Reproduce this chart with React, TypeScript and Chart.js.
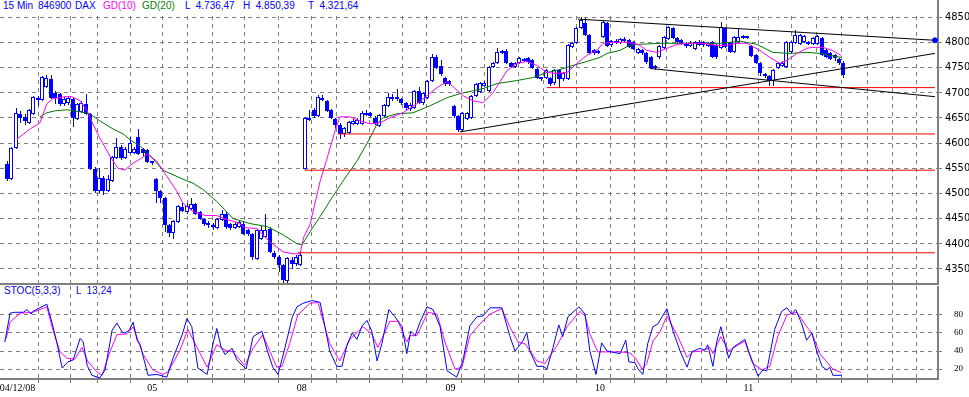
import React, { useEffect, useRef } from "react";
import { Chart, registerables } from "chart.js";
Chart.register(...registerables);

// ---------- DATA (15 min bars, DAX) ----------
const openP = [
  4558, 4528, 4590, 4658, 4652, 4640, 4658, 4690, 4686, 4712, 4728, 4700, 4698, 4678, 4680, 4688, 4648, 4662, 4678, 4658,
  4548, 4504, 4530, 4504, 4524, 4570, 4592, 4570, 4580, 4580, 4612, 4588, 4586, 4562,
  4528, 4504, 4490, 4438, 4422, 4444, 4472, 4462, 4468, 4478, 4462, 4450, 4442, 4438, 4432, 4448, 4460, 4440, 4432, 4434,
  4440, 4428, 4420, 4370, 4410, 4414, 4430, 4382, 4374, 4358, 4326, 4368, 4360, 4358,
  4548, 4650, 4666, 4654, 4690, 4684, 4666, 4648, 4636, 4618, 4620, 4638, 4638, 4638, 4656, 4660, 4650, 4634, 4654, 4674,
  4692, 4688, 4688, 4680, 4668, 4670, 4704, 4680, 4690, 4724, 4770, 4752, 4730, 4724,
  4674, 4654, 4626, 4648, 4650, 4694, 4702, 4714, 4704, 4750, 4758, 4778, 4782, 4758, 4750, 4758, 4762, 4768, 4764, 4746,
  4730, 4730, 4730, 4720, 4744, 4728, 4728, 4790, 4798, 4828, 4838, 4814, 4784, 4782,
  4810, 4838, 4794, 4798, 4798, 4806, 4804, 4800, 4778, 4784, 4778, 4770, 4752, 4770, 4788, 4806, 4828, 4808, 4804, 4798,
  4792, 4786, 4794, 4800, 4792, 4800, 4794, 4788, 4828, 4798, 4780, 4800, 4812, 4810,
  4792, 4774, 4758, 4738, 4734, 4724, 4748, 4752, 4750, 4780, 4798, 4796, 4800, 4800, 4796, 4796, 4808, 4784, 4778, 4774,
  4766, 4758,
];
const highP = [
  4564, 4592, 4670, 4664, 4658, 4668, 4694, 4694, 4734, 4736, 4736, 4704, 4700, 4692, 4694, 4692, 4680, 4684, 4698, 4660,
  4552, 4550, 4534, 4536, 4574, 4610, 4596, 4592, 4612, 4592, 4628, 4590, 4588, 4564,
  4530, 4506, 4492, 4440, 4448, 4476, 4480, 4480, 4490, 4480, 4464, 4452, 4446, 4442, 4452, 4466, 4462, 4442, 4444, 4448,
  4446, 4430, 4422, 4430, 4436, 4460, 4434, 4386, 4378, 4360, 4374, 4374, 4378, 4382,
  4652, 4666, 4670, 4696, 4696, 4686, 4668, 4650, 4640, 4632, 4644, 4648, 4650, 4664, 4666, 4662, 4654, 4658, 4678, 4700,
  4698, 4708, 4690, 4682, 4680, 4706, 4712, 4702, 4726, 4776, 4774, 4764, 4732, 4726,
  4676, 4656, 4662, 4662, 4696, 4720, 4722, 4724, 4752, 4760, 4788, 4784, 4786, 4760, 4760, 4770, 4768, 4770, 4766, 4748,
  4732, 4746, 4732, 4746, 4746, 4742, 4796, 4800, 4830, 4850, 4848, 4816, 4786, 4784,
  4842, 4840, 4804, 4806, 4808, 4810, 4806, 4802, 4788, 4786, 4780, 4772, 4754, 4794, 4812, 4832, 4830, 4810, 4806, 4800,
  4802, 4802, 4804, 4802, 4800, 4802, 4796, 4840, 4830, 4800, 4812, 4828, 4814, 4812,
  4794, 4776, 4760, 4740, 4736, 4746, 4760, 4762, 4802, 4802, 4824, 4816, 4814, 4802, 4810, 4814, 4810, 4786, 4780, 4776,
  4768, 4762,
];
const lowP = [
  4524, 4526, 4588, 4640, 4636, 4638, 4656, 4674, 4684, 4710, 4688, 4678, 4674, 4674, 4676, 4632, 4646, 4660, 4656, 4546,
  4500, 4500, 4496, 4502, 4522, 4568, 4566, 4568, 4578, 4578, 4576, 4574, 4560, 4556,
  4480, 4480, 4424, 4414, 4410, 4442, 4462, 4460, 4466, 4458, 4448, 4436, 4432, 4428, 4430, 4446, 4430, 4428, 4430, 4432,
  4418, 4416, 4368, 4368, 4408, 4412, 4382, 4370, 4344, 4322, 4322, 4350, 4356, 4356,
  4546, 4644, 4650, 4652, 4684, 4662, 4648, 4630, 4608, 4612, 4618, 4636, 4636, 4636, 4654, 4652, 4636, 4632, 4652, 4672,
  4684, 4684, 4676, 4666, 4664, 4668, 4678, 4676, 4688, 4722, 4746, 4734, 4714, 4714,
  4650, 4622, 4622, 4646, 4648, 4692, 4700, 4712, 4702, 4748, 4756, 4776, 4756, 4748, 4748, 4756, 4760, 4756, 4746, 4728,
  4724, 4728, 4714, 4716, 4710, 4724, 4726, 4788, 4796, 4826, 4812, 4776, 4774, 4776,
  4808, 4790, 4790, 4796, 4796, 4800, 4788, 4784, 4776, 4774, 4756, 4746, 4744, 4766, 4786, 4804, 4806, 4798, 4794, 4788,
  4790, 4784, 4792, 4790, 4790, 4768, 4766, 4786, 4788, 4778, 4778, 4798, 4806, 4806,
  4770, 4756, 4734, 4730, 4714, 4714, 4746, 4750, 4748, 4778, 4796, 4794, 4798, 4794, 4794, 4794, 4772, 4768, 4764, 4762,
  4754, 4730,
];
const closeP = [
  4528, 4590, 4660, 4650, 4644, 4666, 4692, 4686, 4732, 4730, 4690, 4690, 4678, 4688, 4690, 4650, 4678, 4680, 4658, 4548,
  4504, 4530, 4504, 4528, 4572, 4592, 4570, 4588, 4600, 4588, 4578, 4580, 4562, 4560,
  4504, 4490, 4438, 4422, 4446, 4474, 4464, 4474, 4478, 4460, 4450, 4440, 4438, 4434, 4450, 4460, 4434, 4432, 4440, 4444,
  4420, 4420, 4374, 4428, 4428, 4428, 4384, 4374, 4358, 4328, 4372, 4360, 4374, 4378,
  4650, 4646, 4654, 4692, 4686, 4664, 4650, 4636, 4618, 4630, 4642, 4644, 4646, 4660, 4660, 4654, 4640, 4656, 4676, 4692,
  4688, 4690, 4680, 4670, 4676, 4704, 4680, 4700, 4724, 4770, 4748, 4738, 4718, 4718,
  4654, 4626, 4660, 4660, 4694, 4718, 4720, 4720, 4750, 4758, 4780, 4782, 4758, 4750, 4758, 4768, 4766, 4760, 4748, 4730,
  4728, 4744, 4718, 4744, 4728, 4740, 4794, 4798, 4828, 4844, 4814, 4778, 4778, 4778,
  4840, 4792, 4802, 4802, 4806, 4802, 4790, 4786, 4786, 4778, 4760, 4748, 4748, 4792, 4810, 4830, 4808, 4800, 4798, 4792,
  4798, 4800, 4800, 4794, 4798, 4770, 4770, 4830, 4790, 4780, 4810, 4810, 4808, 4808,
  4772, 4758, 4740, 4734, 4724, 4744, 4758, 4758, 4800, 4800, 4814, 4814, 4812, 4796, 4808, 4812, 4774, 4770, 4766, 4768,
  4758, 4736,
];

// moving averages, [bar, value]
const gd10Pts: [number, number][] = [
  [2.3, 4608], [5.3, 4628], [7.5, 4640], [9.1, 4678], [10.5, 4688], [13.2, 4692], [14.8, 4692], [16.7, 4684], [18.3, 4664],
  [19.6, 4638], [21.2, 4610], [23.5, 4574], [25.3, 4550], [26.9, 4546], [28.8, 4560], [30.4, 4568], [32, 4578], [34.2, 4564],
  [36.5, 4534], [38.8, 4504], [40.2, 4480], [42.5, 4464], [45.2, 4456], [47.9, 4456], [50.2, 4448], [52.7, 4442], [54.3, 4432],
  [57.1, 4430], [60, 4404], [63, 4384], [65.3, 4380], [66.9, 4380], [67.8, 4414], [69.2, 4438], [71.5, 4524], [73.1, 4570],
  [74.9, 4624], [76, 4652], [78.3, 4652], [80.6, 4644], [82.9, 4638], [85.2, 4640], [87.4, 4650], [90.4, 4660], [93.6, 4678],
  [95.9, 4694], [98.2, 4710], [100.5, 4722], [101.1, 4718], [104.1, 4694], [106.4, 4684], [108.7, 4680], [111, 4700],
  [114.2, 4744], [116.4, 4758], [118.7, 4762], [121, 4754], [123.3, 4740], [125.6, 4738], [127.9, 4740], [130.1, 4758],
  [132.4, 4774], [134.7, 4784], [136.1, 4798], [138.4, 4800], [141.6, 4800], [144.1, 4796], [146.1, 4784], [148.4, 4780],
  [150.7, 4788], [153, 4796], [155.9, 4798], [158.9, 4798], [162.1, 4794], [164.4, 4794], [166.7, 4798], [169, 4798],
  [171.9, 4784], [174.2, 4770], [176.5, 4758], [178.1, 4764], [180.4, 4778], [182.6, 4788], [184, 4790], [186.3, 4790],
  [188.4, 4784], [190.5, 4774],
];
const gd20Pts: [number, number][] = [
  [7.5, 4652], [9.1, 4660], [11, 4664], [13.7, 4666], [16.7, 4662], [18.9, 4658], [21.2, 4644], [24.2, 4628], [26.5, 4618],
  [28.5, 4604], [30.4, 4594], [32.6, 4576], [35.6, 4546], [40.2, 4528], [42.5, 4520], [44.7, 4508], [47.9, 4484], [51.6, 4450],
  [55.5, 4440], [59.4, 4434], [63, 4418], [66.2, 4400], [67.4, 4398], [69.2, 4424], [71.5, 4454], [74.4, 4494], [76.7, 4524],
  [79.9, 4564], [82.9, 4610], [84.5, 4638], [85.8, 4650], [89, 4658], [92.7, 4660], [96.6, 4674], [100.5, 4690], [103.4, 4698],
  [108.7, 4708], [111.9, 4718], [116.4, 4724], [120.1, 4730], [123.3, 4740], [126.3, 4746], [129.2, 4754], [132.4, 4762],
  [135.4, 4770], [137, 4778], [140, 4784], [142.2, 4794], [144.5, 4796], [149.1, 4798], [156.6, 4798], [162.8, 4798],
  [167.4, 4802], [171.2, 4796], [174.9, 4780], [178.8, 4778], [182.6, 4780], [185.6, 4778], [187.9, 4774], [190.5, 4770],
];

// stochastic (5,3,3): %K and %D, [bar, value]
const stochK: [number, number][] = [
  [-0.5, 50], [0.7, 82], [1.8, 83], [3.7, 83], [4.6, 86], [5.5, 81], [5.9, 84], [7.5, 88], [8.7, 91], [9.1, 92], [10.3, 71],
  [11.4, 49], [12.6, 21], [13.9, 28], [15.1, 30], [16.7, 54], [17.4, 50], [18.3, 24], [19.4, 13], [21.2, 10], [22.4, 19],
  [24, 63], [25.1, 71], [26.3, 61], [26.9, 60], [27.9, 63], [28.8, 72], [29.7, 52], [30.4, 47], [32.2, 13], [34.2, 14],
  [36.5, 11], [37.9, 32], [40, 58], [41.1, 76], [42.2, 67], [43.6, 21], [45.7, 14], [47, 47], [47.9, 65], [48.9, 44],
  [49.8, 36], [51.4, 43], [52.5, 30], [54.6, 20], [56.2, 56], [58.2, 62], [59.4, 41], [60.7, 22], [61.9, 14], [63.5, 44],
  [65.1, 77], [66.2, 89], [67.6, 93], [69.6, 96], [70.8, 95], [71.5, 94], [72.6, 67], [73.7, 40], [75.3, 23], [76.5, 23],
  [77.6, 46], [78.8, 60], [79.9, 53], [81.1, 68], [82.2, 74], [83.3, 62], [84.5, 29], [85.6, 48], [87.2, 86], [88.6, 78],
  [90.2, 67], [91.3, 37], [92.2, 62], [93.2, 57], [94.3, 72], [95.9, 89], [97.3, 86], [98.9, 67], [100.5, 18], [102.7, 11],
  [104.1, 29], [105.7, 68], [107.3, 78], [108.7, 79], [110.3, 88], [113, 88], [114.8, 57], [116, 40], [117.8, 51], [118.7, 61],
  [119.4, 40], [121, 23], [122.4, 23], [123.3, 20], [124.7, 44], [126, 69], [126.9, 56], [128.1, 78], [130.6, 89], [132, 81],
  [133.1, 40], [134.5, 14], [135.8, 49], [137, 40], [140, 37], [141.3, 52], [142, 28], [143.4, 27], [144.1, 20], [145.2, 14],
  [146.3, 48], [147.5, 67], [148.6, 70], [150.7, 87], [152.1, 62], [153.7, 40], [155.3, 22], [156.4, 39], [158.2, 43],
  [159.4, 41], [160, 47], [161.2, 23], [162.1, 51], [163, 67], [163.9, 50], [164.8, 32], [165.8, 44], [168.5, 53], [169.4, 39],
  [171.5, 12], [172.6, 19], [173.5, 18], [175.3, 64], [176.9, 84], [178.1, 88], [179.2, 81], [180.1, 86], [181.5, 70],
  [182.6, 52], [183.8, 60], [184.9, 40], [186.1, 23], [187.2, 19], [187.9, 22], [188.6, 13], [190.5, 13],
];
const stochD: [number, number][] = [
  [-0.2, 54], [0.7, 72], [3, 82], [5.9, 83], [9.1, 89], [10.5, 63], [12.1, 39], [13.7, 32], [15.5, 31], [17.1, 44], [18.5, 28],
  [20.5, 17], [21.7, 13], [23.5, 39], [25.1, 58], [27.4, 59], [28.8, 67], [31.1, 36], [33.3, 19], [35.6, 14], [36.8, 17],
  [39.5, 41], [41.3, 64], [43.4, 44], [45.7, 22], [47.9, 47], [49.8, 41], [51.6, 39], [54.3, 24], [56.2, 43], [58.4, 58],
  [61.6, 22], [62.8, 23], [64.6, 49], [66.4, 80], [69.2, 93], [71, 94], [73.7, 48], [76, 29], [78.3, 53], [81.3, 67],
  [83.3, 59], [84.7, 44], [87.4, 73], [89.3, 73], [91.3, 50], [92, 57], [93.6, 57], [96.1, 83], [98.2, 81], [100, 50],
  [102.3, 20], [103.9, 22], [105.7, 57], [108, 70], [110.3, 81], [113, 87], [114.8, 67], [116.7, 50], [118.3, 48], [121, 29],
  [122.8, 26], [125.6, 46], [127.9, 67], [130.8, 84], [132, 79], [133.1, 59], [134.9, 39], [136.1, 39], [140, 39], [142.2, 38],
  [143.4, 33], [145, 20], [146.1, 26], [147.5, 51], [149.1, 61], [150.7, 79], [153.2, 56], [155.3, 33], [156.6, 39],
  [158.7, 40], [160.5, 44], [161.2, 37], [163, 56], [164.8, 40], [166.7, 46], [168.5, 51], [170.3, 26], [172.4, 19],
  [174.2, 23], [176, 56], [178.1, 80], [180.4, 83], [182.6, 67], [183.8, 60], [185.6, 37], [187.2, 28], [188.6, 20], [190.5, 16],
];

// drawn support levels and trend lines
const supportLevels = [4710, 4618, 4546, 4382];
const supportFrom = [123.3, 75.6, 68, 66.4];
const trendLines: [number, number][][] = [
  [[130.4, 4846], [211.9, 4804]],
  [[146.8, 4748], [211.9, 4692]],
  [[103.4, 4622], [211.9, 4778]],
];
const LINE_END = 211.9;

// axes
const priceTicks = [4350, 4400, 4450, 4500, 4550, 4600, 4650, 4700, 4750, 4800, 4850];
const stochTicks = [20, 40, 60, 80];
const gridBars = [
  7.1, 14.6, 20.6, 28.1, 35.6, 41.3, 47.0, 54.3, 61.9, 69.6, 75.3, 82.7, 90.4, 95.9, 103.7, 109.1, 116.7, 122.4, 130.1,
  137.7, 143.4, 150.7, 158.5, 164.2, 171.5, 179.2, 184.9, 190.6, 196.4, 202.1, 207.8,
];
const dayLabels = ["04/12/08", "05", "08", "09", "10", "11"];
const dayLabelBars = [2.4, 33.15, 67.3, 101.3, 135.4, 169.3];

const XMIN = -1.6;
const XMAX = 212.6;

const BLUE = "#0000ff";
const MAG = "#ff00ff";
const GREEN = "#007800";
const GRIDC = "#808080";
const SANS_N = '"Liberation Sans Narrow", "DejaVu Sans Condensed", "Liberation Sans", sans-serif';
const SERIF = '"Liberation Serif", "DejaVu Serif", serif';

const toPts = (arr: [number, number][]) => arr.map(([x, y]) => ({ x, y }));

function lineDs(data: any[], color: string, order: number, extra: any = {}) {
  return {
    type: "line",
    data,
    borderColor: color,
    backgroundColor: color,
    borderWidth: 1,
    pointRadius: 0,
    fill: false,
    tension: 0,
    order,
    ...extra,
  };
}

// snap candle bars to whole pixels so they render crisp
const crispBars = {
  id: "crispBars",
  afterDatasetsUpdate(chart: any) {
    chart.data.datasets.forEach((ds: any, i: number) => {
      const meta = chart.getDatasetMeta(i);
      if (meta.type !== "bar") return;
      const wick = ds.barThickness === 1;
      meta.data.forEach((el: any) => {
        const X = Math.round(el.x);
        el.x = wick ? X + 0.5 : X;
        el.y = Math.round(el.y);
        el.base = Math.round(el.base);
        if (el.y === el.base) el.base = el.y + 1;
      });
    });
  },
};

export default function App() {
  const mainRef = useRef<HTMLCanvasElement>(null);
  const stochRef = useRef<HTMLCanvasElement>(null);

  useEffect(() => {
    document.body.style.margin = "0";
    const bodies = openP.map((o, i) => ({ x: i, y: [o, closeP[i]] }));
    const wicks = highP.map((h, i) => ({ x: i, y: [lowP[i], h] }));
    const bodyColors = openP.map((o, i) => (closeP[i] >= o ? "#ffffff" : BLUE));

    const datasets: any[] = [
      {
        type: "bar",
        data: wicks,
        backgroundColor: BLUE,
        borderWidth: 0,
        barThickness: 1,
        grouped: false,
        inflateAmount: 0,
        order: 10,
      },
      {
        type: "bar",
        data: bodies,
        backgroundColor: bodyColors,
        borderColor: BLUE,
        borderWidth: 1,
        borderSkipped: false,
        barThickness: 4,
        grouped: false,
        minBarLength: 2,
        inflateAmount: 0,
        order: 9,
      },
      lineDs(toPts(gd20Pts), GREEN, 5),
      lineDs(toPts(gd10Pts), MAG, 4),
    ];
    supportLevels.forEach((lv, i) => {
      datasets.push(lineDs([{ x: supportFrom[i], y: lv }, { x: LINE_END, y: lv }], "#ff0000", 3));
    });
    trendLines.forEach((tl, i) => {
      datasets.push(
        lineDs(toPts(tl), "#000000", 2, i === 0 ? { pointRadius: [0, 2.5], pointBackgroundColor: BLUE, pointBorderColor: BLUE } : {})
      );
    });

    const common = {
      animation: false as const,
      responsive: false,
      devicePixelRatio: 1,
      events: [] as any[],
      layout: { padding: 0, autoPadding: false },
      plugins: { legend: { display: false }, tooltip: { enabled: false }, title: { display: false } },
    };

    const main = new Chart(mainRef.current!, {
      type: "bar",
      data: { datasets },
      plugins: [crispBars],
      options: {
        ...common,
        scales: {
          x: {
            type: "linear",
            position: "bottom",
            min: XMIN,
            max: XMAX,
            offset: false,
            afterBuildTicks: (s: any) => {
              s.ticks = gridBars.map((v) => ({ value: v }));
            },
            afterFit: (s: any) => {
              s.height = 2;
              s.paddingLeft = 0;
              s.paddingRight = 0;
            },
            ticks: { display: false },
            grid: { color: GRIDC, lineWidth: 1, drawTicks: false, offset: false },
            border: { display: true, color: GRIDC, width: 2, dash: [4, 4] },
          },
          y: {
            type: "linear",
            position: "right",
            min: 4320,
            max: 4884,
            afterBuildTicks: (s: any) => {
              s.ticks = priceTicks.map((v) => ({ value: v }));
            },
            afterFit: (s: any) => {
              s.width = 31;
              s.paddingTop = 0;
              s.paddingBottom = 0;
            },
            ticks: {
              color: "#000000",
              padding: 3,
              font: { family: SANS_N, size: 11 },
              callback: (v: any) => String(v),
            },
            grid: { color: GRIDC, lineWidth: 1, drawTicks: true, tickLength: 4, tickColor: GRIDC, tickBorderDash: [] },
            border: { display: true, color: GRIDC, width: 2, dash: [4, 4] },
          },
        },
      } as any,
    });

    const stoch = new Chart(stochRef.current!, {
      type: "line",
      data: {
        datasets: [
          lineDs(toPts(stochD), MAG, 2) as any,
          lineDs(toPts(stochK), BLUE, 1) as any,
        ],
      },
      options: {
        ...common,
        scales: {
          x: {
            type: "linear",
            position: "bottom",
            weight: 0,
            min: XMIN,
            max: XMAX,
            offset: false,
            afterBuildTicks: (s: any) => {
              s.ticks = gridBars.map((v) => ({ value: v }));
            },
            afterFit: (s: any) => {
              s.height = 4;
              s.paddingLeft = 0;
              s.paddingRight = 0;
            },
            ticks: { display: false },
            grid: { color: GRIDC, lineWidth: 1, drawTicks: true, tickLength: 4, tickColor: GRIDC, tickBorderDash: [] },
            border: { display: true, color: GRIDC, width: 2, dash: [4, 4] },
          },
          x2: {
            type: "linear",
            position: "bottom",
            weight: 1,
            min: XMIN,
            max: XMAX,
            offset: false,
            afterBuildTicks: (s: any) => {
              s.ticks = dayLabelBars.map((v) => ({ value: v }));
            },
            afterFit: (s: any) => {
              s.height = 14;
              s.paddingLeft = 0;
              s.paddingRight = 0;
            },
            ticks: {
              autoSkip: false,
              maxRotation: 0,
              minRotation: 0,
              padding: 0,
              color: "#000000",
              font: { family: SERIF, size: 10, lineHeight: 1 },
              callback: (_v: any, i: number) => dayLabels[i],
            },
            grid: { display: false, drawTicks: false },
            border: { display: false },
          },
          y: {
            type: "linear",
            position: "right",
            min: 8.9,
            max: 112.2,
            afterBuildTicks: (s: any) => {
              s.ticks = stochTicks.map((v) => ({ value: v }));
            },
            afterFit: (s: any) => {
              s.width = 31;
              s.paddingTop = 0;
              s.paddingBottom = 0;
            },
            ticks: {
              color: "#000000",
              padding: 12,
              font: { family: SERIF, size: 9 },
              callback: (v: any) => String(v),
            },
            grid: { color: GRIDC, lineWidth: 1, drawTicks: true, tickLength: 4, tickColor: GRIDC, tickBorderDash: [] },
            border: { display: true, color: GRIDC, width: 2, dash: [4, 4] },
          },
        },
      } as any,
    });

    return () => {
      main.destroy();
      stoch.destroy();
    };
  }, []);

  const hdr: React.CSSProperties = {
    position: "absolute",
    top: 0,
    font: '10px "Liberation Sans", Arial, sans-serif',
    lineHeight: "12px",
    whiteSpace: "pre",
    color: BLUE,
  };
  const shdr: React.CSSProperties = { ...hdr, top: 285, background: "#ffffff" };

  return (
    <div style={{ position: "absolute", left: 0, top: 0, width: 969, height: 397, background: "#ffffff", overflow: "hidden" }}>
      <canvas ref={mainRef} width={969} height={286} style={{ position: "absolute", left: 0, top: 0, width: 969, height: 286 }} />
      <canvas ref={stochRef} width={969} height={111} style={{ position: "absolute", left: 0, top: 286, width: 969, height: 111 }} />
      <div style={{ position: "absolute", left: 0, top: 0, width: 936, height: 14, background: "#ffffff" }} />
      <span style={{ ...hdr, left: 3 }}>15 Min</span>
      <span style={{ ...hdr, left: 38 }}>846900</span>
      <span style={{ ...hdr, left: 75 }}>DAX</span>
      <span style={{ ...hdr, left: 103, color: MAG }}>GD(10)</span>
      <span style={{ ...hdr, left: 142, color: "#008000" }}>GD(20)</span>
      <span style={{ ...hdr, left: 185 }}>{"L  4.736,47"}</span>
      <span style={{ ...hdr, left: 243 }}>{"H  4.850,39"}</span>
      <span style={{ ...hdr, left: 308 }}>{"T  4.321,64"}</span>
      <span style={{ ...shdr, left: 4 }}>STOC(5,3,3)</span>
      <span style={{ ...shdr, left: 76 }}>{"L  13,24"}</span>
    </div>
  );
}
